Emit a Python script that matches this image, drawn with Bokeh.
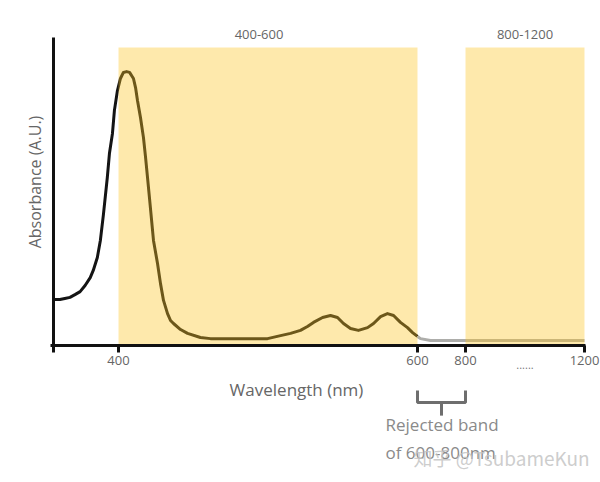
import numpy as np
from bokeh.plotting import figure
from bokeh.models import Range1d, LinearAxis, FixedTicker
from bokeh.core.properties import value
from bokeh.embed import file_html
from bokeh.resources import INLINE

# ---------------- data ----------------
WAVELENGTH = [357.0, 361.2, 364.5, 367.9, 371.2, 374.6, 377.9, 381.3, 383.3, 386.0,
              388.0, 390.0, 392.6, 394.0, 396.0, 397.3, 399.3, 401.3, 403.3,
              405.4, 407.4, 410.0, 411.4, 412.7, 414.7, 416.7, 418.1, 419.4, 420.7,
              423.4, 426.1, 428.1, 430.1, 432.8, 434.8, 436.8, 441.5, 446.2,
              454.8, 461.5, 481.6, 499.7, 508.4, 515.1, 521.7, 526.4, 530.4, 536.5,
              541.8, 546.5, 550.5, 555.2, 560.5, 566.6, 570.6, 575.3, 579.9, 584.0,
              588.6, 593.3, 596.7, 600.0]
ABSORBANCE = [0.167, 0.167, 0.171, 0.175, 0.185, 0.196, 0.218, 0.247, 0.273, 0.320,
              0.382, 0.475, 0.611, 0.698, 0.771, 0.855, 0.927, 0.971, 0.993,
              0.996, 0.993, 0.971, 0.938, 0.891, 0.829, 0.756, 0.684, 0.611, 0.538,
              0.382, 0.298, 0.225, 0.164, 0.116, 0.091, 0.080, 0.058, 0.044,
              0.029, 0.025, 0.025, 0.025, 0.036, 0.044, 0.055, 0.069, 0.084, 0.102,
              0.109, 0.102, 0.080, 0.062, 0.055, 0.065, 0.080, 0.105, 0.116, 0.109,
              0.084, 0.065, 0.047, 0.033]
TAIL_WAVELENGTH = [600, 612.5, 654, 800, 1200]
TAIL_ABSORBANCE = [0.033, 0.025, 0.018, 0.018, 0.018]

BAND_START = [400, 800]
BAND_END = [600, 1200]
BAND_LABELS = ["400-600", "800-1200"]
BAND_LABEL_WL = [494, 1000]

TICK_WL = [357, 400, 600, 800, 1200]
TICK_LABELS = ["", "400", "600", "800", "1200"]

REJECT_START, REJECT_END = 600, 800
REJECT_TEXT = "Rejected band\nof 600-800nm"

# broken axis: wavelength -> display position
WL_KNOTS = [357, 400, 600, 800, 1200]
POS_KNOTS = [0, 65, 364, 412, 531]


def pos(wl):
    return np.interp(np.asarray(wl, dtype=float), WL_KNOTS, POS_KNOTS)


FONT = value("Open Sans")
BAND_TOP = 1.084

p = figure(width=600, height=482, output_backend="svg", toolbar_location=None,
           x_range=Range1d(-53, 547), y_range=Range1d(-137 / 275, 345 / 275),
           x_axis_location=None, y_axis_location=None, min_border=0)
p.outline_line_color = None
for g in p.grid:
    g.visible = False
p.background_fill_color = "white"
p.border_fill_color = "white"

# curve (drawn first so the translucent bands tint it)
p.line(pos(WAVELENGTH), ABSORBANCE, line_color="#141414", line_width=3,
       line_join="round")
p.line(pos(TAIL_WAVELENGTH), TAIL_ABSORBANCE, line_color="#adadaa", line_width=3)

# highlighted bands
p.quad(left=pos(BAND_START), right=pos(BAND_END), bottom=0, top=BAND_TOP,
       fill_color="#FCC424", fill_alpha=0.38, line_color=None)

p.text(x=pos(BAND_LABEL_WL), y=[1.131] * len(BAND_LABELS), text=BAND_LABELS,
       text_font=FONT, text_font_size="13px", text_color="#666666",
       text_align="center", text_baseline="middle")

# ---- axes ----
xaxis = LinearAxis(fixed_location=0, bounds=(-3, 532),
                   ticker=FixedTicker(ticks=[int(v) for v in pos(TICK_WL)]),
                   major_label_overrides={int(k): v for k, v in zip(pos(TICK_WL), TICK_LABELS)})
xaxis.axis_line_color = "#111111"
xaxis.axis_line_width = 3
xaxis.major_tick_line_color = "#111111"
xaxis.major_tick_line_width = 3
xaxis.major_tick_out = 7
xaxis.major_tick_in = 0
xaxis.minor_tick_line_color = None
xaxis.major_label_text_font = "Open Sans"
xaxis.major_label_text_font_size = "13px"
xaxis.major_label_text_color = "#666666"
xaxis.major_label_standoff = 3
p.add_layout(xaxis, "below")

# axis carrying the x title, centred where the original title sits
xtitle = LinearAxis(fixed_location=0, bounds=(-3, 489), ticker=FixedTicker(ticks=[]),
                    axis_label="Wavelength (nm)")
xtitle.axis_line_color = None
xtitle.major_tick_line_color = None
xtitle.minor_tick_line_color = None
xtitle.major_tick_out = 0
xtitle.major_label_standoff = 0
xtitle.axis_label_text_font = "Open Sans"
xtitle.axis_label_text_font_style = "normal"
xtitle.axis_label_text_font_size = "17px"
xtitle.axis_label_text_color = "#666666"
xtitle.axis_label_standoff = 32
p.add_layout(xtitle, "below")

yaxis = LinearAxis(fixed_location=0, bounds=(-0.007, 1.12), ticker=FixedTicker(ticks=[]))
yaxis.axis_line_color = "#111111"
yaxis.axis_line_width = 3
yaxis.major_tick_line_color = None
yaxis.minor_tick_line_color = None
yaxis.major_tick_out = 0
yaxis.major_label_standoff = 0
p.add_layout(yaxis, "left")

ytitle = LinearAxis(fixed_location=0, bounds=(0.069, 1.12), ticker=FixedTicker(ticks=[]),
                    axis_label="Absorbance (A.U.)")
ytitle.axis_line_color = None
ytitle.major_tick_line_color = None
ytitle.minor_tick_line_color = None
ytitle.major_tick_out = 0
ytitle.major_label_standoff = 0
ytitle.axis_label_text_font = "Open Sans"
ytitle.axis_label_text_font_style = "normal"
ytitle.axis_label_text_font_size = "16px"
ytitle.axis_label_text_color = "#666666"
ytitle.axis_label_standoff = 8
p.add_layout(ytitle, "left")

# ellipsis between 800 and 1200
p.text(x=pos([1000]), y=[-0.07], text=["......"], text_font=FONT,
       text_font_size="11px", text_color="#777777", text_align="center",
       text_baseline="middle")

# rejected band bracket
xl, xr = pos([REJECT_START, REJECT_END])
xm = (xl + xr) / 2
p.multi_line(xs=[[xl, xl, xr, xr], [xm, xm]],
             ys=[[-0.164, -0.207, -0.207, -0.164], [-0.207, -0.255]],
             line_color="#6e6e6e", line_width=3)
p.text(x=[xl - 32], y=[-0.338], text=[REJECT_TEXT], text_font=FONT,
       text_font_size="17px", text_color="#8a8a8a", text_align="left",
       text_baseline="middle", text_line_height=1.2)

# watermark
p.text(x=[xl - 4], y=[-0.408], text=["知乎 @TsubameKun"],
       text_font=value("Noto Sans CJK SC"), text_font_size="19px",
       text_color="#c4c4c4", text_alpha=0.85, text_align="left",
       text_baseline="middle")

open("out.html", "w").write(file_html(p, INLINE))
